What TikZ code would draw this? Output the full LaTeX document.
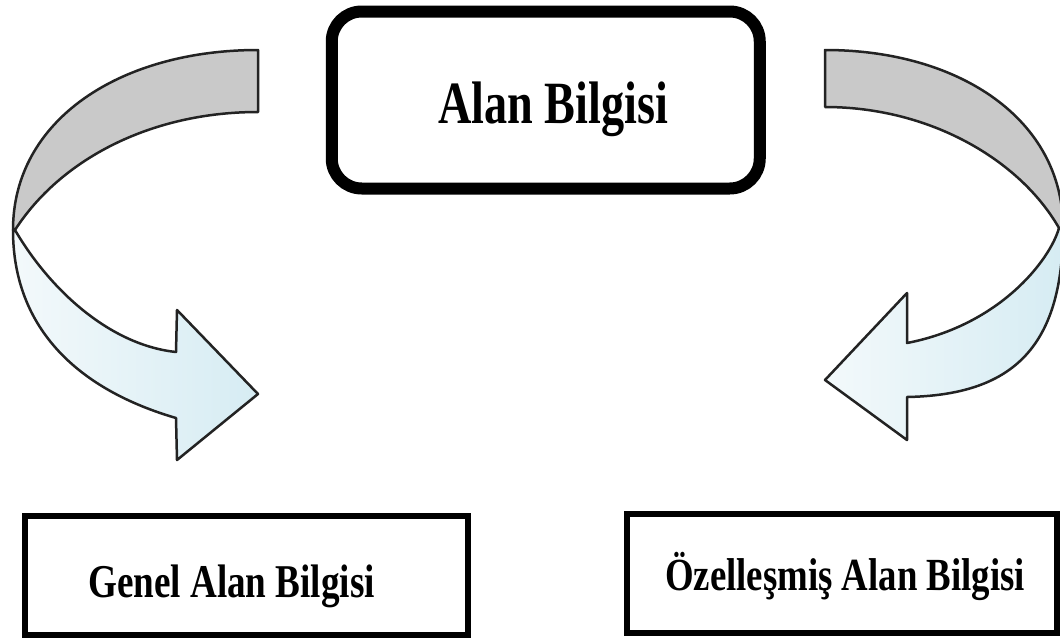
\documentclass[tikz,border=0pt]{standalone}
\usepackage{fontspec}
\setmainfont{Liberation Serif}
\usepackage{graphicx}
\definecolor{bandgray}{RGB}{201,201,201}
\definecolor{bandblue}{RGB}{214,236,243}
\definecolor{bandlight}{RGB}{243,249,251}
\definecolor{edgecol}{RGB}{35,35,35}
\begin{document}
\begin{tikzpicture}[x=1pt,y=-1pt,
  band/.style={draw=edgecol, line width=2.5pt, line join=round},
  backband/.style={band, fill=bandgray},
  frontband/.style={band, left color=bandlight, right color=bandblue},
  topbox/.style={draw, line width=12pt, rounded corners=30pt, inner sep=0pt,
                 minimum width=428pt, minimum height=177pt},
  subbox/.style={draw, line width=6pt, inner sep=0pt, minimum height=119pt},
  lbl/.style={inner sep=0pt, anchor=base, font=\bfseries}
]
\useasboundingbox (0,0) rectangle (1060,643);
\fill[white] (0,0) rectangle (1060,643);
\begin{scope}
\clip (0,0) rectangle (1060,643);
% left curved arrow
\path[backband] (258,50) .. controls (120,50) and (13,120) .. (13,230)
  -- (15,230) .. controls (60,160) and (150,112) .. (258,112) -- cycle;
\path[frontband] (13,230) .. controls (13,330) and (80,390) .. (176,418)
  -- (177,460) -- (258,394) -- (177,310) -- (176,352)
  .. controls (110,345) and (50,290) .. (15,230) -- cycle;
% right curved arrow
\path[backband] (825,50) .. controls (960,50) and (1063,120) .. (1063,228)
  -- (1059,228) .. controls (1020,160) and (930,107) .. (825,107) -- cycle;
\path[frontband] (1063,228) .. controls (1063,350) and (1010,395) .. (907,397)
  -- (907,440) -- (825,380) -- (907,293) -- (907,343)
  .. controls (1000,325) and (1050,260) .. (1059,228) -- cycle;
\end{scope}
% boxes
\node[topbox] (top) at (545.75,100) {};
\node[lbl] (toptext) at (553,123) {\fontsize{60}{72}\selectfont\scalebox{0.77}[1]{Alan Bilgisi}};
\node[subbox, minimum width=443pt] (genel) at (246.5,575.5) {};
\node[lbl] (geneltext) at (231.5,597) {\fontsize{47}{56}\selectfont\scalebox{0.79}[1]{Genel Alan Bilgisi}};
\node[subbox, minimum width=430pt] (ozel) at (842,573.5) {};
\node[lbl] (ozeltext) at (845,590) {\fontsize{46}{56}\selectfont\scalebox{0.8}[1]{Özelleşmiş Alan Bilgisi}};
\end{tikzpicture}
\end{document}
